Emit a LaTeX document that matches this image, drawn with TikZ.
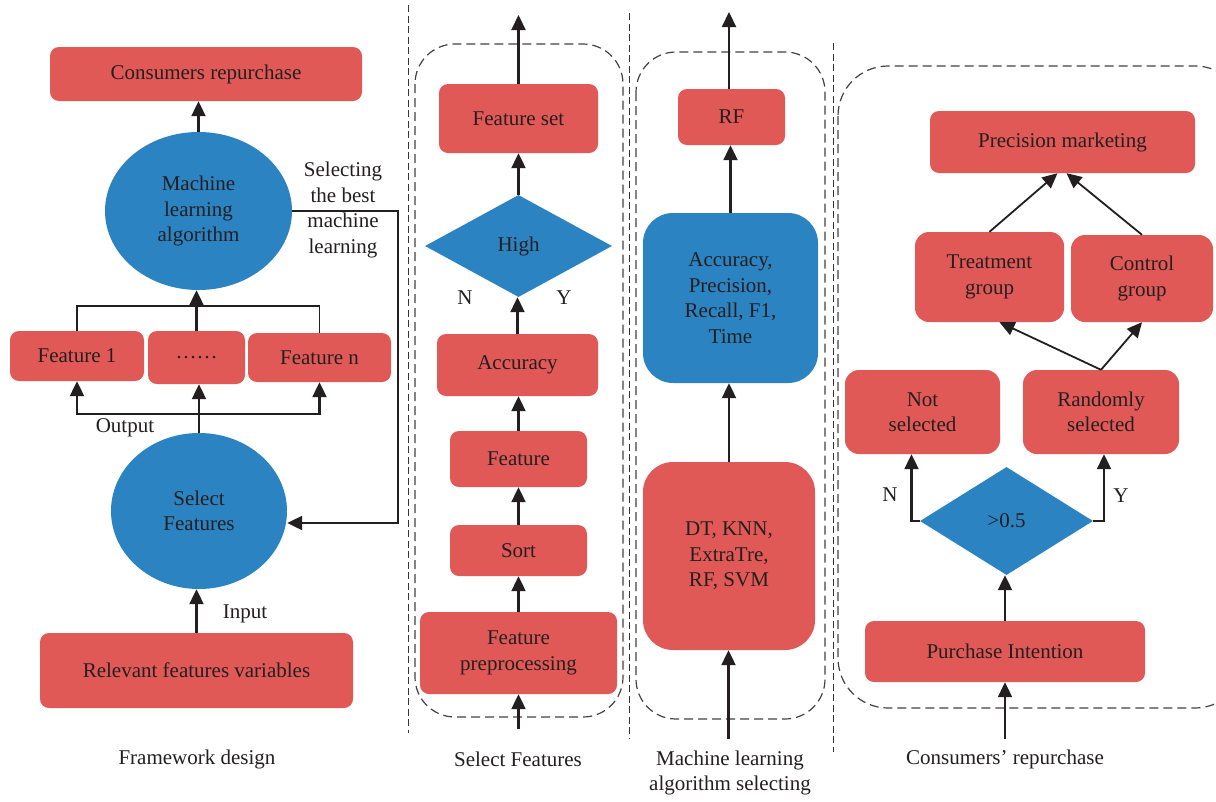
\documentclass[tikz,border=0pt]{standalone}
\usepackage{fontspec}
\setmainfont{Liberation Serif}
\usetikzlibrary{arrows.meta,shapes.geometric}
\definecolor{boxred}{RGB}{224,89,86}
\definecolor{boxblue}{RGB}{44,131,194}
\definecolor{ink}{RGB}{35,31,32}
\begin{document}
\begin{tikzpicture}[x=1pt,y=-1pt,
 every node/.style={font=\fontsize{21}{25.5}\selectfont, text=ink},
 rbox/.style={fill=boxred, rounded corners=9pt, inner sep=0pt, align=center},
 bell/.style={ellipse, fill=boxblue, inner sep=0pt, align=center},
 bdia/.style={diamond, fill=boxblue, inner sep=0pt},
 arr/.style={draw=ink, line width=2.2pt, -{Triangle[length=15pt,width=14pt]}},
 bline/.style={draw=ink, line width=1.4pt},
 sep/.style={draw=ink!90, line width=1pt, dash pattern=on 7pt off 3.5pt},
 grp/.style={draw=ink!85, line width=1.2pt, dash pattern=on 9pt off 5pt, rounded corners=40pt},
 lab/.style={inner sep=0pt, align=center}
]
\useasboundingbox (0,0) rectangle (1216,801);
\fill[white] (0,0) rectangle (1216,801);

% ---------- Panel 1: Framework design ----------
\node[rbox, minimum width=312pt, minimum height=54pt] (cr) at (206,74) {Consumers repurchase};
\node[bell, minimum width=187pt, minimum height=158pt] (ml) at (198.5,211) {Machine\\learning\\algorithm};
\draw[arr] (ml.north) -- (ml.north |- cr.south);
\node[lab] (sel) at (343,210) {Selecting\\the best\\machine\\learning};
\node[rbox, minimum width=134pt, minimum height=50pt] (f1) at (77,356) {Feature 1};
\node[rbox, minimum width=97pt, minimum height=53pt] (fd) at (196.5,357.5) {……};
\node[rbox, minimum width=143pt, minimum height=49pt] (fn) at (319.5,357.5) {Feature n};
\coordinate (tb) at (197,306);
\draw[bline] (f1.north) |- (tb) -| (fn.north);
\draw[arr] (fd.north) -- (fd.north |- ml.south);
\node[bell, minimum width=176pt, minimum height=156pt] (sf) at (199,511) {Select\\Features};
\coordinate (bb) at (199,414);
\draw[arr] (sf.north) -- (bb) -- (bb |- fd.south);
\draw[arr] (bb) -| (f1.south);
\draw[arr] (bb) -| (fn.south);
\node[lab] (out) at (125,428) {Output};
\coordinate (fr) at (398,523);
\draw[arr] (ml.east) -| (fr) -- (sf.east |- fr);
\node[rbox, minimum width=313pt, minimum height=75pt] (rv) at (196.5,670.5) {Relevant features variables};
\draw[arr] (rv.north) -- (rv.north |- sf.south);
\node[lab] (inp) at (245,614) {Input};
\node[lab] (cap1) at (197,759) {Framework design};

% ---------- separators ----------
\draw[sep] (408,5) -- (408,733);
\draw[sep] (629,13) -- (629,739);
\draw[sep] (833,43) -- (833,752);

% ---------- Panel 2: Select Features ----------
\draw[grp] (415,44) rectangle (623,717);
\node[rbox, minimum width=159pt, minimum height=69pt] (fs) at (518.5,118.5) {Feature set};
\coordinate (t2) at (518.5,15);
\draw[arr] (fs.north) -- (t2);
\node[bdia, minimum width=187pt, minimum height=102pt] (hi) at (518.5,246) {High};
\draw[arr] (hi.north) -- (fs.south);
\node[lab] (n2) at (465,298) {N};
\node[lab] (y2) at (564,298) {Y};
\node[rbox, minimum width=161pt, minimum height=62pt] (acc) at (517.5,365) {Accuracy};
\draw[arr] (acc.north) -- (acc.north |- hi.south);
\node[rbox, minimum width=137pt, minimum height=56pt] (fe) at (518.5,459) {Feature};
\draw[arr] (fe.north) -- (fe.north |- acc.south);
\node[rbox, minimum width=137pt, minimum height=51pt] (so) at (518.5,550.5) {Sort};
\draw[arr] (so.north) -- (fe.south);
\node[rbox, minimum width=197pt, minimum height=82pt] (fp) at (518.5,653) {Feature\\preprocessing};
\draw[arr] (fp.north) -- (so.south);
\coordinate (b2) at (518.5,729);
\draw[arr] (b2) -- (fp.south);
\node[lab] (cap2) at (518,759) {Select Features};

% ---------- Panel 3: ML algorithm selecting ----------
\draw[grp] (636,52) rectangle (825,719);
\node[rbox, minimum width=107pt, minimum height=56pt] (rfb) at (731.5,117) {RF};
\coordinate (t3) at (729,12);
\draw[arr] (rfb.north -| t3) -- (t3);
\node[rbox, fill=boxblue, rounded corners=30pt, minimum width=175pt, minimum height=170pt] (met) at (730.5,298) {Accuracy,\\Precision,\\Recall, F1,\\Time};
\draw[arr] (met.north) -- (met.north |- rfb.south);
\node[rbox, rounded corners=30pt, minimum width=172pt, minimum height=188pt] (alg) at (729,556) {DT, KNN,\\ExtraTre,\\RF, SVM};
\draw[arr] (alg.north) -- (alg.north |- met.south);
\coordinate (b3) at (728.5,739);
\draw[arr] (b3) -- (b3 |- alg.south);
\node[lab] (cap3) at (730,773) {Machine learning\\algorithm selecting};

% ---------- Panel 4: Consumers' repurchase ----------
\draw[grp, rounded corners=50pt] (838,66) rectangle (1245,708);
\node[rbox, minimum width=265pt, minimum height=62pt] (pm) at (1062.5,142) {Precision marketing};
\node[rbox, rounded corners=14pt, minimum width=149pt, minimum height=90pt] (tg) at (989.5,277) {Treatment\\group};
\node[rbox, rounded corners=14pt, minimum width=142pt, minimum height=87pt] (cg) at (1142,278.5) {Control\\group};
\draw[arr, line width=1.8pt] (tg.north) -- ([xshift=-5pt]pm.south);
\draw[arr, line width=1.8pt] (cg.north) -- ([xshift=4pt]pm.south);
\node[rbox, rounded corners=14pt, minimum width=155pt, minimum height=84pt] (ns) at (922.5,412) {Not\\selected};
\node[rbox, rounded corners=14pt, minimum width=156pt, minimum height=84pt] (rs) at (1101,412) {Randomly\\selected};
\draw[arr, line width=1.8pt] (rs.north) -- ([xshift=10pt]tg.south);
\draw[arr, line width=1.8pt] (rs.north) -- (cg.south);
\node[bdia, minimum width=173pt, minimum height=108pt] (gt) at (1006.5,521) {>0.5};
\draw[arr] (gt.west) -| ([xshift=-11pt]ns.south);
\draw[arr] (gt.east) -| ([xshift=3pt]rs.south);
\node[lab] (n4) at (890,495) {N};
\node[lab] (y4) at (1121,496) {Y};
\node[rbox, minimum width=280pt, minimum height=61pt] (pi) at (1005,651.5) {Purchase Intention};
\draw[arr] (pi.north) -- (pi.north |- gt.south);
\coordinate (b4) at (1005,739);
\draw[arr] (b4) -- (pi.south);
\node[lab] (cap4) at (1005,759) {Consumers’ repurchase};
\end{tikzpicture}
\end{document}
